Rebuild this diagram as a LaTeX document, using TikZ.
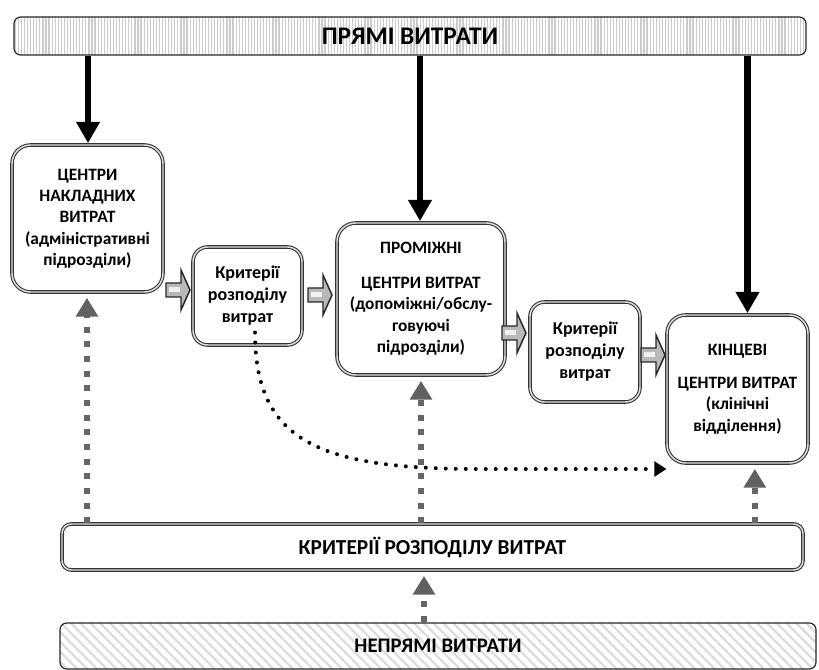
\documentclass[tikz,border=0pt]{standalone}
\usepackage{fontspec}
\setmainfont{Carlito}
\usetikzlibrary{arrows.meta,patterns.meta,calc}

\tikzset{
  boxtext/.style={font=\bfseries\fontsize{13}{16}\selectfont},
  centrebox/.style={boxtext, draw=black!80, double=gray!25, double distance=1.1pt,
    line width=0.8pt, fill=white, rounded corners=14pt, align=center, inner sep=0pt},
  critbox/.style={centrebox, rounded corners=11pt, font=\bfseries\fontsize{13.5}{16.5}\selectfont},
  stripebar/.style={font=\bfseries\fontsize{19}{22}\selectfont, draw=black!85, line width=0.9pt, rounded corners=5pt,
    pattern={Lines[angle=90,distance=2.3pt,line width=0.9pt]}, pattern color=gray!40},
  hatchbar/.style={font=\bfseries\fontsize{15.5}{18}\selectfont, draw=black!85, line width=0.9pt, rounded corners=5pt,
    pattern={Lines[angle=-45,distance=5.2pt,line width=1.6pt]}, pattern color=gray!28},
  plainbar/.style={font=\bfseries\fontsize{16}{19}\selectfont, draw=black!80, double=gray!25, double distance=1.1pt,
    line width=0.8pt, fill=white, rounded corners=7pt},
  blackarr/.style={line width=5pt, -{Triangle[length=16pt,width=17pt]}, shorten >=1pt},
  grayarr/.style={draw=black!60, line width=4.5pt, dash pattern=on 4.5pt off 6.5pt,
    -{Triangle[length=14pt,width=16pt,color=black!62]}, shorten >=4pt},
  dotarr/.style={line width=3pt, line cap=round, dash pattern=on 0pt off 7.5pt,
    -{Triangle[length=9pt,width=11pt]}},
  blockarr/.pic={
    \draw[line width=1.1pt, draw=black!85, fill=gray!55, line join=miter]
      (-12,-7) -- (3,-7) -- (3,-20) -- (12,0) -- (3,20) -- (3,7) -- (-12,7) -- cycle;
    \fill[gray!12] (-9,-2.5) rectangle (2,2.5);
  }
}

\begin{document}
\begin{tikzpicture}[x=0.75pt,y=-0.75pt]
\useasboundingbox (0,0) rectangle (819,670);

% cost sources and allocation bars
\node[stripebar, minimum width=594pt, minimum height=28.5pt] (top) at (410,36) {ПРЯМІ ВИТРАТИ};
\node[plainbar, minimum width=555.75pt, minimum height=34.5pt] (crit) at (432.5,547) {КРИТЕРІЇ РОЗПОДІЛУ ВИТРАТ};
\node[hatchbar, minimum width=567pt, minimum height=34.5pt] (indir) at (438,646) {НЕПРЯМІ ВИТРАТИ};

% cost centres
\node[centrebox, minimum width=113.25pt, minimum height=110.25pt] (b1) at (87.5,218.5)
  {ЦЕНТРИ\\НАКЛАДНИХ\\ВИТРАТ\\(адміністративні\\підрозділи)};
\node[centrebox, minimum width=126pt, minimum height=114pt] (b2) at (421,299)
  {ПРОМІЖНІ\\[10pt]ЦЕНТРИ ВИТРАТ\\(допоміжні/обслу-\\говуючі\\підрозділи)};
\node[centrebox, minimum width=105.75pt, minimum height=111pt] (b3) at (737.5,389)
  {КІНЦЕВІ\\[9pt]ЦЕНТРИ ВИТРАТ\\(клінічні\\відділення)};

% allocation criteria between centres
\node[critbox, minimum width=81.75pt, minimum height=73.5pt] (k1) at (247.5,296)
  {Критерії\\розподілу\\витрат};
\node[critbox, minimum width=82.5pt, minimum height=75pt] (k2) at (585,352)
  {Критерії\\розподілу\\витрат};

% flow between centres
\pic (ba1) at (178,290) {blockarr};
\pic (ba2) at (320,295) {blockarr};
\pic (ba3) at (514,333) {blockarr};
\pic (ba4) at (653,355) {blockarr};

% direct costs
\coordinate (a1) at ([xshift=0.4pt]b1.north);
\coordinate (a2) at ([xshift=-0.75pt]b2.north);
\coordinate (a3) at ([xshift=7.5pt]b3.north);
\draw[blackarr] (top.south -| a1) -- (a1);
\draw[blackarr] (top.south -| a2) -- (a2);
\draw[blackarr] (top.south -| a3) -- (a3);

% indirect cost allocation
\coordinate (g1) at ([xshift=-0.4pt]b1.south);
\coordinate (g2) at (b2.south);
\coordinate (g3) at ([xshift=13pt]b3.south);
\coordinate (g4) at (424,0);
\draw[grayarr] (crit.north -| g1) -- (g1);
\draw[grayarr] (crit.north -| g2) -- (g2);
\draw[grayarr] (crit.north -| g3) -- (g3);
\draw[grayarr] (indir.north -| g4) -- (crit.south -| g4);

% allocation straight to final centres
\coordinate (d0) at ([shift={(7.5,-13)}]k1.south);
\coordinate (dm) at (480,469);
\draw[dotarr] (d0) .. controls (255,442) and (320,469) .. (dm) -- (dm -| b3.west);
\end{tikzpicture}
\end{document}
